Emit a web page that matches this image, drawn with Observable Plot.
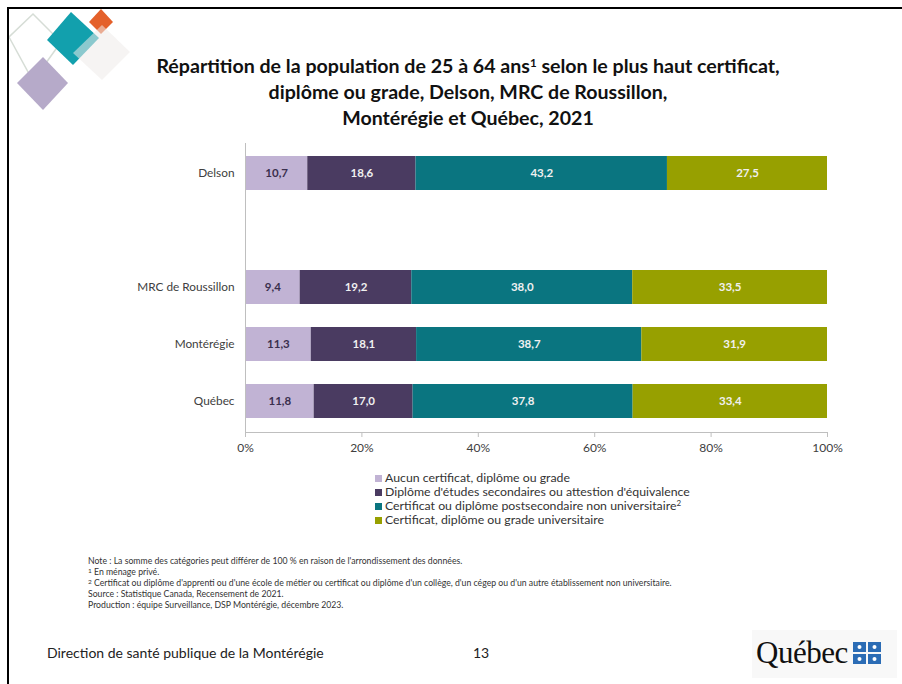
<!DOCTYPE html>
<html>
<head>
<meta charset="utf-8">
<script src="https://cdn.jsdelivr.net/npm/d3@7"></script>
<script src="https://cdn.jsdelivr.net/npm/@observablehq/plot@0.6"></script>
<style>
  html, body { margin: 0; padding: 0; background: #fff; }
  #page { position: relative; width: 902px; height: 684px; overflow: hidden; background: #fff; font-family: Lato, "Open Sans", sans-serif; color: #262626; }
  .border-top { position: absolute; left: 7px; top: 7px; width: 895px; height: 2px; background: #000; }
  .border-left { position: absolute; left: 7px; top: 7px; width: 2px; height: 677px; background: #000; }
  #title { position: absolute; left: 0; width: 936px; top: 53px; text-align: center; font-weight: bold; font-size: 19.6px; line-height: 26px; color: #111; }
  #title sup { font-size: 11.5px; vertical-align: 6px; line-height: 0; }
  #chart { position: absolute; left: 0; top: 130px; }
  #legend { position: absolute; left: 375px; top: 471px; font-size: 12.3px; color: #333; line-height: 14px; }
  #legend .item { display: flex; align-items: center; white-space: nowrap; }
  #legend .sw { width: 7px; height: 7px; margin-right: 3px; flex: none; }
  #legend sup { font-size: 8px; vertical-align: 4px; line-height: 0; }
  #notes { position: absolute; left: 88px; top: 555px; font-size: 8.7px; line-height: 11px; color: #333; white-space: nowrap; }
  #notes sup { font-size: 6.5px; vertical-align: 2px; line-height: 0; }
  #footer { position: absolute; left: 47px; top: 644px; font-size: 14px; color: #222; }
  #page-num { position: absolute; left: 473px; top: 644px; font-size: 14px; color: #222; }
  #qc { position: absolute; left: 752px; top: 630px; width: 145px; height: 48px; background: #f8f8f8; }
  #qc .word { position: absolute; left: 4px; top: 5px; font-family: "Liberation Serif", serif; font-size: 31px; color: #111; letter-spacing: -0.5px; }
  #logo { position: absolute; left: 0; top: 0; }
</style>
</head>
<body>
<div id="page">
  <svg id="logo" width="140" height="120">
    <polygon points="33,14 61,42 33,81 9,37" fill="none" stroke="#d6ddd6" stroke-width="1.5"/>
    <polygon points="43,57 68,83 43,110 17,83" fill="#b6aac9"/>
    <polygon points="71,12 99,38 73,65 47,40" fill="#12a0ad"/>
    <polygon points="101,9 113,22 101,34 89,22" fill="#e4602a"/>
    <polygon points="102,25 130,52 102,80 73,53" fill="#eeebea" fill-opacity="0.55"/>
  </svg>
  <div class="border-top"></div>
  <div class="border-left"></div>
  <div id="title">Répartition de la population de 25 à 64 ans<sup>1</sup> selon le plus haut certificat,<br>diplôme ou grade, Delson, MRC de Roussillon,<br>Montérégie et Québec, 2021</div>
  <div id="chart"></div>
  <div id="legend"></div>
  <div id="notes">
    Note : La somme des catégories peut différer de 100 % en raison de l'arrondissement des données.<br>
    <sup>1</sup> En ménage privé.<br>
    <sup>2</sup> Certificat ou diplôme d'apprenti ou d'une école de métier ou certificat ou diplôme d'un collège, d'un cégep ou d'un autre établissement non universitaire.<br>
    Source : Statistique Canada, Recensement de 2021.<br>
    Production : équipe Surveillance, DSP Montérégie, décembre 2023.
  </div>
  <div id="footer">Direction de santé publique de la Montérégie</div>
  <div id="page-num">13</div>
  <div id="qc">
    <div class="word">Québec</div>
    <svg style="position:absolute;left:101px;top:12px" width="30" height="22">
      <rect x="0" y="0" width="13" height="10" fill="#2b6cb5"/>
      <rect x="15" y="0" width="13" height="10" fill="#2b6cb5"/>
      <rect x="0" y="12" width="13" height="10" fill="#2b6cb5"/>
      <rect x="15" y="12" width="13" height="10" fill="#2b6cb5"/>
      <g fill="#fff">
        <circle cx="6.5" cy="5" r="2"/><circle cx="21.5" cy="5" r="2"/>
        <circle cx="6.5" cy="17" r="2"/><circle cx="21.5" cy="17" r="2"/>
      </g>
    </svg>
  </div>
</div>
<script>
// ---- Data ----
const regions = ["Delson", "", "MRC de Roussillon", "Montérégie", "Québec"];
const categories = [
  "Aucun certificat, diplôme ou grade",
  "Diplôme d'études secondaires ou attestion d'équivalence",
  "Certificat ou diplôme postsecondaire non universitaire²",
  "Certificat, diplôme ou grade universitaire"
];
const colors = ["#c1b3d4", "#4a3b61", "#0a7580", "#97a000"];
const delson = [10.7, 18.6, 43.2, 27.5];
const roussillon = [9.4, 19.2, 38.0, 33.5];
const monteregie = [11.3, 18.1, 38.7, 31.9];
const quebec = [11.8, 17.0, 37.8, 33.4];
const xTicks = [0, 0.2, 0.4, 0.6, 0.8, 1];

const series = [
  ["Delson", delson],
  ["MRC de Roussillon", roussillon],
  ["Montérégie", monteregie],
  ["Québec", quebec]
];
const rows = [];
for (const [region, vals] of series) {
  vals.forEach((v, i) => rows.push({region, category: categories[i], idx: i, value: v}));
}
const fmt = v => v.toFixed(1).replace(".", ",");

const chart = Plot.plot({
  width: 902,
  height: 340,
  marginLeft: 245,
  marginRight: 75,
  marginTop: 13,
  marginBottom: 38,
  style: {fontFamily: "Lato, sans-serif", background: "transparent", overflow: "visible"},
  x: {domain: [0, 1], label: null},
  y: {domain: regions, paddingInner: 0.4, paddingOuter: 0.2, label: null},
  marks: [
    Plot.barX(rows, Plot.stackX({offset: "normalize", x: "value", y: "region", z: "category", fill: d => colors[d.idx]})),
    Plot.text(rows, Plot.stackX({
      offset: "normalize", x: "value", y: "region", z: "category",
      text: d => fmt(d.value),
      fill: d => d.idx === 0 ? "#3a2f4e" : "#f0f0f0",
      fontSize: 11.5, fontWeight: "bold"
    })),
    Plot.frame({anchor: "bottom", stroke: "#bfbfbf"}),
    Plot.frame({anchor: "left", stroke: "#bfbfbf"}),
    Plot.axisX({ticks: xTicks, tickFormat: d => Math.round(d * 100) + "%", tickSize: 5, tickPadding: 6, stroke: "#bfbfbf", fill: "#404040", fontSize: 12, label: null}),
    Plot.axisY({tickSize: 0, tickPadding: 11, fill: "#404040", fontSize: 11.8, label: null})
  ]
});
document.getElementById("chart").appendChild(chart);

const legend = document.getElementById("legend");
categories.forEach((c, i) => {
  const item = document.createElement("div");
  item.className = "item";
  const sw = document.createElement("span");
  sw.className = "sw";
  sw.style.background = colors[i];
  const t = document.createElement("span");
  if (c.endsWith("²")) {
    t.innerHTML = c.slice(0, -1) + "<sup>2</sup>";
  } else t.textContent = c;
  item.appendChild(sw);
  item.appendChild(t);
  legend.appendChild(item);
});
</script>
</body>
</html>
